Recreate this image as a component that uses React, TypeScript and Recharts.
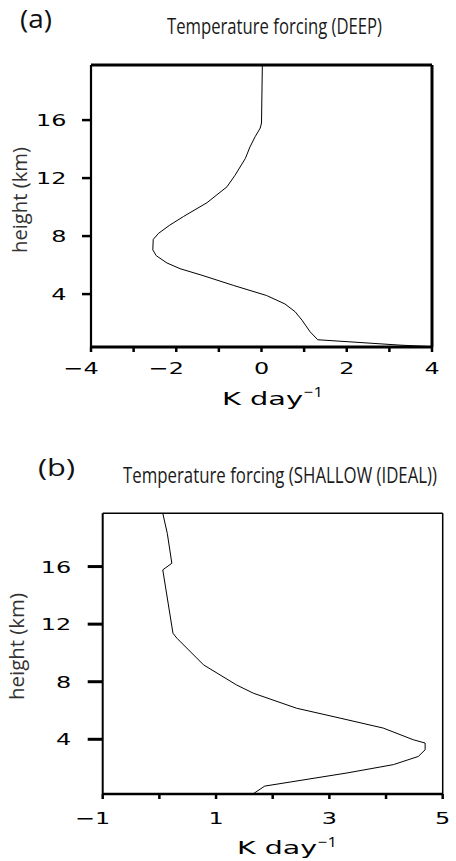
import React from 'react';
import { LineChart, Line, XAxis, YAxis, ReferenceLine } from 'recharts';

// (a) DEEP profile: forcing (K/day) and height (km)
const deepForcing = [0.02, 0.0, -0.03, -0.15, -0.27, -0.38, -0.62, -0.81, -1.28, -1.83, -2.15, -2.42, -2.54, -2.55, -2.47, -2.22, -1.91, -1.4, -0.66, 0.12, 0.55, 0.79, 0.95, 1.14, 1.32, 3.25, 4.0];
const deepHeight = [19.8, 15.8, 15.45, 14.85, 14.15, 13.35, 12.2, 11.4, 10.3, 9.35, 8.76, 8.18, 7.77, 7.05, 6.65, 6.15, 5.75, 5.3, 4.6, 3.9, 3.32, 2.78, 2.2, 1.4, 0.85, 0.48, 0.37];

// (b) SHALLOW (IDEAL) profile
const shallowForcing = [0.06, 0.14, 0.22, 0.06, 0.24, 0.31, 0.78, 1.36, 1.66, 2.42, 3.19, 3.95, 4.48, 4.69, 4.69, 4.57, 4.13, 3.31, 1.86, 1.67];
const shallowHeight = [19.7, 18.3, 16.23, 15.77, 11.37, 11.02, 9.17, 7.78, 7.2, 6.16, 5.47, 4.78, 3.97, 3.74, 3.27, 2.81, 2.24, 1.66, 0.75, 0.25];

// axes
const deepXTicks = [-4, -3, -2, -1, 0, 1, 2, 3, 4];
const deepXLabels = [-4, -2, 0, 2, 4];
const deepXDomain = [-4, 4];
const deepYDomain = [0.35, 19.8];
const shallowXTicks = [-1, 0, 1, 2, 3, 4, 5];
const shallowXLabels = [-1, 1, 3, 5];
const shallowXDomain = [-1, 5];
const shallowYDomain = [0.2, 19.7];
const heightTicks = [4, 8, 12, 16];

const deepData = deepForcing.map((x, i) => ({ x, h: deepHeight[i] }));
const shallowData = shallowForcing.map((x, i) => ({ x, h: shallowHeight[i] }));

const FS = 16.5;
const SX = 1.45;
const TICK_FONT = 'DejaVu Sans';

const makeXTick = (labelled: number[]) => (props: any) => {
  const v = props.payload.value;
  if (!labelled.includes(v)) return <g />;
  const neg = v < 0;
  const txt = neg ? '\u2212' + Math.abs(v) : String(v);
  return (
    <g transform={`translate(${props.x},${props.y}) scale(${SX},1)`}>
      <text x={neg ? 0.318 * FS : 0} y={0.73 * FS} textAnchor={neg ? 'end' : 'middle'} fontFamily={TICK_FONT} fontSize={FS} fill="#000">
        {txt}
      </text>
    </g>
  );
};

const YTick = (props: any) => {
  const v = props.payload.value;
  return (
    <g transform={`translate(${props.x},${props.y}) scale(${SX},1)`}>
      <text x={0} y={0.365 * FS} textAnchor="end" fontFamily={TICK_FONT} fontSize={FS} fill="#000">
        {v}
      </text>
    </g>
  );
};

const TSX = 0.72;

const Title = ({ x, y, w, children }: { x: number; y: number; w: number; children: React.ReactNode }) => (
  <g transform={`translate(${x},${y}) scale(${TSX},1)`}>
    <text x={0} y={0} fontFamily="Open Sans" fontSize={22.5} fill="#1a1a1a" textLength={w / TSX} lengthAdjust="spacingAndGlyphs">
      {children}
    </text>
  </g>
);

export default function App() {
  return (
    <div style={{ position: 'absolute', left: 0, top: 0, width: 456, height: 861, background: '#fff', overflow: 'hidden' }}>
      <div style={{ position: 'absolute', left: 0, top: 0 }}>
        <LineChart width={456} height={430} data={deepData} margin={{ top: 65, right: 24, bottom: 43, left: 31 }}>
          <XAxis
            type="number"
            dataKey="x"
            domain={deepXDomain}
            ticks={deepXTicks}
            interval={0}
            allowDataOverflow
            height={40}
            tickSize={5}
            tickMargin={10}
            axisLine={{ stroke: '#000', strokeWidth: 3 }}
            tickLine={{ stroke: '#000', strokeWidth: 2.5 }}
            tick={makeXTick(deepXLabels)}
          />
          <YAxis
            type="number"
            dataKey="h"
            domain={deepYDomain}
            ticks={heightTicks}
            interval={0}
            allowDataOverflow
            width={60}
            tickSize={9}
            tickMargin={15.5}
            axisLine={{ stroke: '#000', strokeWidth: 2.2 }}
            tickLine={{ stroke: '#000', strokeWidth: 2.5 }}
            tick={YTick}
          />
          <ReferenceLine y={deepYDomain[1]} stroke="#000" strokeWidth={3} />
          <ReferenceLine x={deepXDomain[1]} stroke="#000" strokeWidth={3} />
          <Line type="linear" dataKey="h" stroke="#000" strokeWidth={1} dot={false} isAnimationActive={false} />
        </LineChart>
      </div>
      <div style={{ position: 'absolute', left: 0, top: 430 }}>
        <LineChart width={456} height={431} data={shallowData} margin={{ top: 83.3, right: 13.3, bottom: 27, left: 42.7 }}>
          <XAxis
            type="number"
            dataKey="x"
            domain={shallowXDomain}
            ticks={shallowXTicks}
            interval={0}
            allowDataOverflow
            height={40}
            tickSize={5}
            tickMargin={12.7}
            axisLine={{ stroke: '#000', strokeWidth: 2.5 }}
            tickLine={{ stroke: '#000', strokeWidth: 2.5 }}
            tick={makeXTick(shallowXLabels)}
          />
          <YAxis
            type="number"
            dataKey="h"
            domain={shallowYDomain}
            ticks={heightTicks}
            interval={0}
            allowDataOverflow
            width={60}
            tickSize={15}
            tickMargin={16.5}
            axisLine={{ stroke: '#000', strokeWidth: 2 }}
            tickLine={{ stroke: '#000', strokeWidth: 3 }}
            tick={YTick}
          />
          <ReferenceLine y={shallowYDomain[1]} stroke="#000" strokeWidth={1.5} />
          <ReferenceLine x={shallowXDomain[1]} stroke="#000" strokeWidth={1.5} />
          <Line type="linear" dataKey="h" stroke="#000" strokeWidth={1} dot={false} isAnimationActive={false} />
        </LineChart>
      </div>
      <svg width={456} height={861} style={{ position: 'absolute', left: 0, top: 0, pointerEvents: 'none' }}>
        <text x={20} y={28} fontFamily="Open Sans" fontSize={25} fill="#111" textLength={32} lengthAdjust="spacingAndGlyphs">(a)</text>
        <Title x={167} y={34} w={215}>Temperature forcing (DEEP)</Title>
        <text x={27} y={200} transform="rotate(-90 27 200)" textAnchor="middle" fontFamily="Open Sans" fontSize={20} fill="#333" textLength={106} lengthAdjust="spacingAndGlyphs">height (km)</text>
        <text x={222} y={405} fontFamily="DejaVu Sans" fontSize={18} fill="#000" textLength={81} lengthAdjust="spacingAndGlyphs">K day</text>
        <text x={304} y={397} fontFamily="Open Sans" fontSize={14} fill="#000" textLength={19} lengthAdjust="spacingAndGlyphs">{'\u2212'}1</text>

        <text x={38} y={476} fontFamily="Open Sans" fontSize={24} fill="#111" textLength={37} lengthAdjust="spacingAndGlyphs">(b)</text>
        <Title x={123} y={483} w={314}>Temperature forcing (SHALLOW (IDEAL))</Title>
        <text x={23.5} y={646.5} transform="rotate(-90 23.5 646.5)" textAnchor="middle" fontFamily="Open Sans" fontSize={20} fill="#333" textLength={107} lengthAdjust="spacingAndGlyphs">height (km)</text>
        <text x={237} y={854} fontFamily="DejaVu Sans" fontSize={17.5} fill="#000" textLength={80} lengthAdjust="spacingAndGlyphs">K day</text>
        <text x={318} y={847} fontFamily="Open Sans" fontSize={14} fill="#000" textLength={19} lengthAdjust="spacingAndGlyphs">{'\u2212'}1</text>
      </svg>
    </div>
  );
}
